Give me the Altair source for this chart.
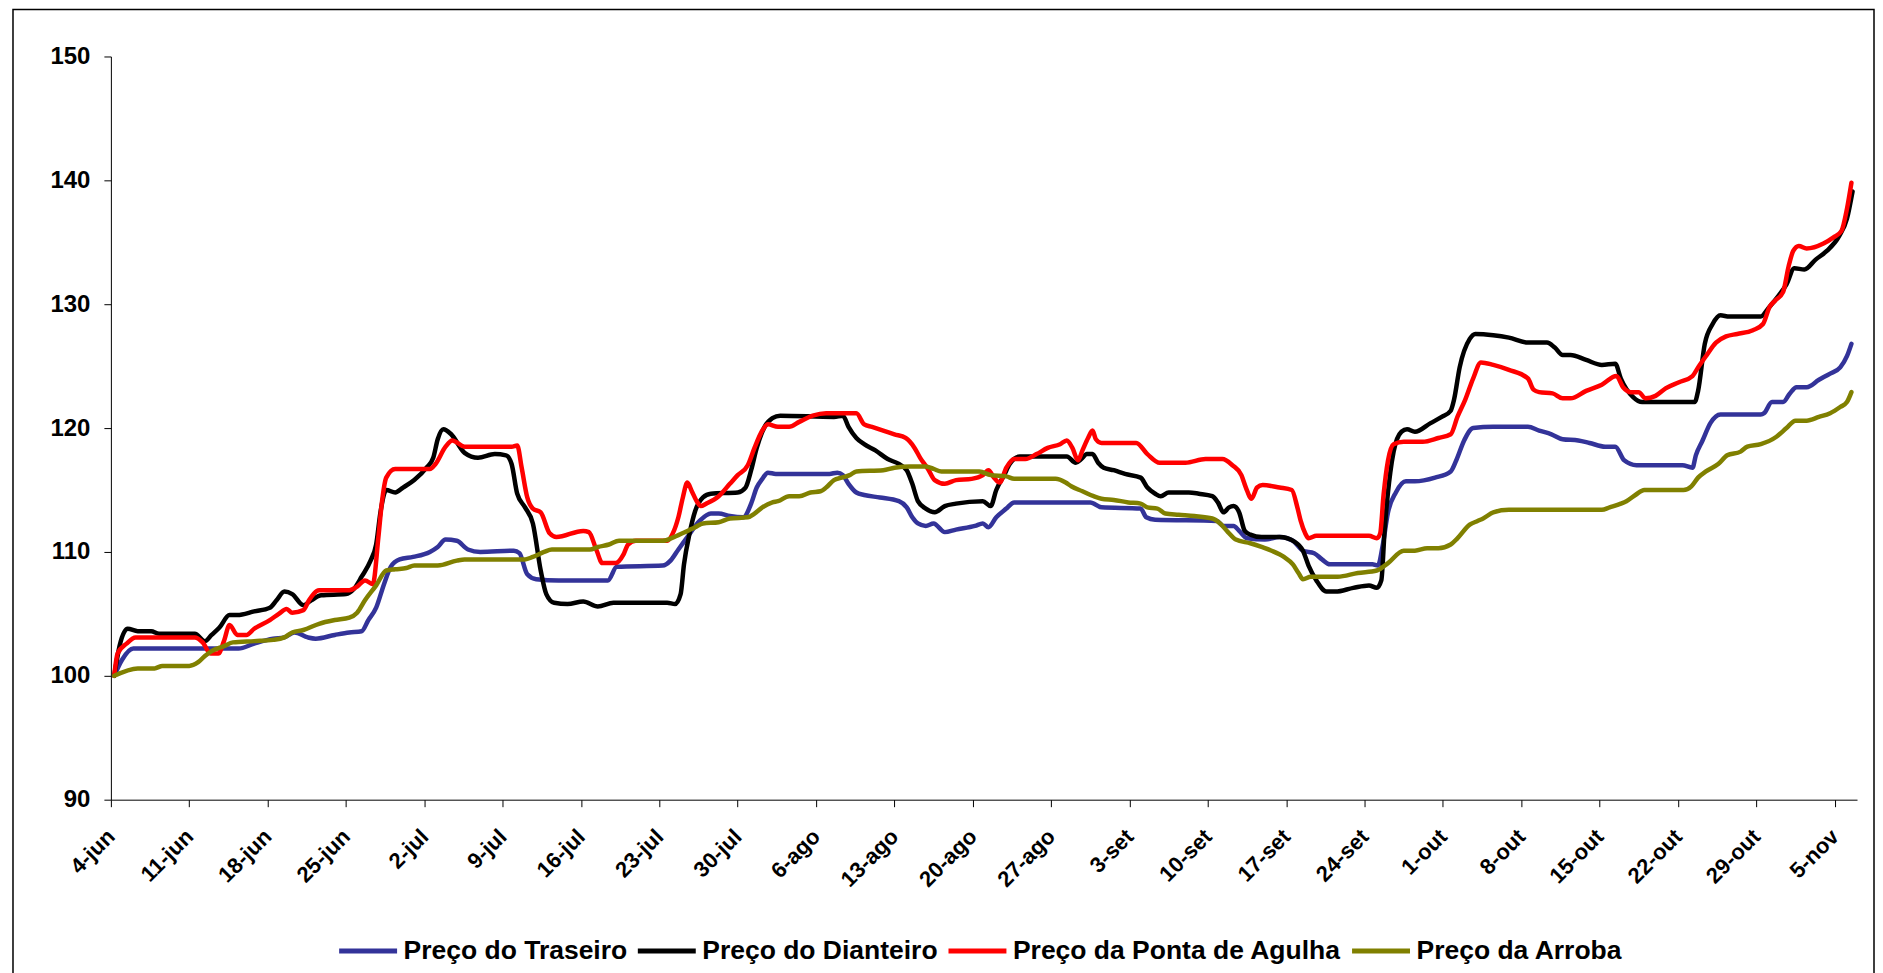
import json
import altair as alt
import pandas as pd

# ---------------- data ----------------
tick_days = [0, 7, 14, 21, 28, 35, 42, 49, 56, 63, 70, 77, 84, 91, 98, 105, 112, 119, 126, 133, 140, 147, 154]
tick_labels = ["4-jun", "11-jun", "18-jun", "25-jun", "2-jul", "9-jul", "16-jul", "23-jul", "30-jul",
               "6-ago", "13-ago", "20-ago", "27-ago", "3-set", "10-set", "17-set", "24-set",
               "1-out", "8-out", "15-out", "22-out", "29-out", "5-nov"]

series_names = ["Preço do Traseiro", "Preço do Dianteiro", "Preço da Ponta de Agulha", "Preço da Arroba"]
series_colors = ["#333399", "#000000", "#FF0000", "#808000"]

traseiro_dia = [0.3, 1, 2, 8, 11.4, 12.8, 14.5, 15.5, 16.4, 17.6, 18.3, 20, 21.3, 22.4, 23, 23.7, 24.4, 25, 25.8, 27,
                28.5, 29.2, 29.9, 30.9, 31.9, 33, 36, 36.5, 37.2, 38, 40, 44.4, 45.2, 49.3, 50, 50.7, 51.5, 52.6,
                53.6, 54.3, 55.3, 56.5, 57.2, 57.7, 58.2, 58.7, 59.4, 64.2, 64.9, 65.4, 65.9, 66.6, 67.3, 68.7,
                70.4, 71.1, 71.6, 72.1, 72.8, 73.5, 74.5, 75.5, 77.2, 77.9, 78.4, 79.1, 80, 80.7, 87.5, 88.5, 92,
                92.5, 93.3, 98.8, 99.4, 100.3, 100.8, 101.5, 103.1, 104.4, 105.6, 106.5, 107.5, 108.2, 108.9,
                112.7, 113.2, 113.6, 114.1, 114.8, 115.7, 116.5, 118.3, 119.7, 120.2, 120.9, 121.7, 123.5, 126.6,
                127.6, 128.7, 129.7, 131.1, 132.1, 133.5, 134.4, 135.2, 136.3, 140.4, 141.3, 141.6, 142.2, 142.9,
                143.8, 147.4, 147.7, 148.4, 149.4, 150, 150.6, 151.5, 152.6, 153.6, 154.5, 155.1, 155.5]
traseiro_val = [100, 101.3, 102.2, 102.2, 102.2, 102.6, 103.0, 103.1, 103.5, 103.1, 103.0, 103.3, 103.5, 103.6,
                104.5, 105.5, 107.4, 108.8, 109.4, 109.6, 110.0, 110.4, 111.0, 110.9, 110.2, 110.0, 110.1, 109.9,
                108.2, 107.8, 107.7, 107.7, 108.8, 108.9, 109.3, 110.2, 111.2, 112.5, 113.1, 113.1, 112.9, 112.8,
                113.9, 115.2, 115.9, 116.4, 116.3, 116.3, 116.4, 116.2, 115.5, 114.8, 114.6, 114.4, 114.1, 113.6,
                112.8, 112.3, 112.1, 112.3, 111.6, 111.8, 112.1, 112.3, 112.0, 112.8, 113.5, 114.0, 114.0, 113.6,
                113.5, 112.8, 112.6, 112.5, 112.1, 112.1, 111.7, 111.1, 111.0, 111.2, 110.9, 110.1, 109.9, 109.4,
                109.0, 109.0, 108.9, 110.4, 113.2, 114.8, 115.7, 115.7, 116.0, 116.5, 117.4, 119.0, 120.0, 120.1,
                120.1, 119.8, 119.5, 119.1, 119.0, 118.8, 118.5, 118.5, 117.4, 117.0, 117.0, 116.8, 117.8, 119.0,
                120.4, 121.1, 121.1, 121.2, 122.1, 122.1, 122.8, 123.3, 123.3, 123.9, 124.4, 124.9, 125.8, 126.8]

dianteiro_dia = [0.3, 0.8, 1.5, 2.4, 3.6, 4.3, 7.5, 8.4, 9, 9.7, 10.6, 11.3, 12.8, 14.2, 14.8, 15.5, 16.2, 17.2,
                 17.9, 18.8, 21, 21.7, 22.4, 23.2, 23.7, 24.1, 24.6, 25.4, 26.1, 27.1, 28.2, 28.8, 29.2, 29.7, 30.4,
                 31.6, 32.8, 34.3, 35.3, 35.8, 36.3, 37, 37.7, 38.4, 38.9, 39.6, 40.8, 42.2, 43.5, 44.9, 49.7, 50.4,
                 50.9, 51.2, 51.7, 52.2, 52.9, 53.6, 56, 56.7, 57.2, 57.7, 58.4, 59.1, 59.8, 64.6, 65.4, 65.9, 66.6,
                 67.3, 68.3, 69.4, 70.4, 71.1, 71.6, 72.1, 72.8, 73.6, 74.5, 75.5, 77.9, 78.6, 79.1, 79.8, 80.3,
                 81.2, 85.4, 86.2, 86.7, 87.2, 87.7, 88.2, 88.7, 89.6, 90.6, 92, 92.6, 93.3, 93.8, 94.5, 96.3, 97.2,
                 98.4, 98.9, 99.4, 99.9, 100.3, 100.8, 101.3, 101.8, 102.8, 104.4, 105.8, 106.5, 107, 107.7, 108.6,
                 109.4, 111, 112.4, 113.1, 113.5, 113.8, 114.3, 114.6, 115.3, 115.8, 116.5, 117.9, 118.9, 119.7,
                 120, 120.5, 121.4, 121.9, 123.5, 124.9, 126.6, 128.3, 129, 129.7, 130.4, 131.8, 133.2, 134.4,
                 134.9, 136, 136.8, 141.5, 141.8, 142.4, 143.1, 143.8, 144.6, 147.4, 148.1, 149, 149.7, 150.4,
                 151.3, 152.3, 153.3, 154.4, 155.1, 155.6]
dianteiro_val = [100, 102.5, 103.8, 103.6, 103.6, 103.4, 103.4, 102.8, 103.3, 103.9, 104.9, 104.9, 105.2, 105.5,
                 106.1, 106.8, 106.6, 105.7, 106.1, 106.5, 106.6, 107.0, 108.0, 109.3, 110.6, 113.3, 115.0, 114.8,
                 115.2, 115.8, 116.8, 117.6, 119.1, 119.9, 119.5, 118.0, 117.6, 117.9, 117.8, 117.1, 114.7, 113.6,
                 112.3, 108.5, 106.6, 105.9, 105.8, 106.0, 105.6, 105.9, 105.9, 105.8, 106.6, 109.0, 111.5, 113.3,
                 114.4, 114.7, 114.8, 115.2, 116.6, 118.4, 120.1, 120.8, 121.0, 120.9, 121.0, 120.1, 119.2, 118.7,
                 118.2, 117.5, 117.1, 116.6, 115.5, 114.1, 113.5, 113.2, 113.7, 113.9, 114.1, 113.7, 115.0, 116.2,
                 117.1, 117.7, 117.7, 117.2, 117.5, 117.9, 117.9, 117.2, 116.8, 116.6, 116.3, 116.0, 115.2, 114.7,
                 114.5, 114.8, 114.8, 114.7, 114.5, 114.0, 113.2, 113.6, 113.7, 113.2, 111.7, 111.4, 111.2, 111.2,
                 110.8, 110.1, 108.9, 107.7, 106.8, 106.8, 107.1, 107.3, 107.1, 107.7, 111.8, 116.4, 118.1, 119.7,
                 119.9, 119.7, 120.4, 120.9, 121.4, 122.3, 124.9, 127.2, 127.6, 127.5, 127.3, 126.9, 126.9, 126.5,
                 125.9, 125.9, 125.5, 125.1, 125.2, 124.0, 122.5, 122.1, 122.1, 123.0, 126.8, 128.4, 129.1, 129.0,
                 129.0, 129.7, 130.7, 131.6, 132.9, 132.8, 133.6, 134.3, 135.5, 136.9, 139.1]

agulha_dia = [0.3, 0.6, 1.4, 2.2, 7.5, 8.2, 8.9, 9.6, 10.1, 10.6, 11.3, 12.1, 12.8, 14.2, 15, 15.7, 16.2, 17.2, 17.7,
              18.6, 21.3, 22, 22.7, 23.4, 23.9, 24.2, 24.6, 25.4, 28.5, 29, 29.9, 30.5, 31.6, 35.8, 36.3, 36.7,
              37.2, 37.7, 38.4, 39.2, 39.8, 42.2, 42.7, 43.4, 43.9, 45.1, 45.8, 46.2, 46.9, 49.7, 50.2, 50.7, 51.1,
              51.5, 51.9, 52.4, 52.7, 53.2, 54.3, 55.3, 56, 56.9, 57.5, 58.2, 58.7, 59.6, 60.6, 61.5, 62.7, 63.9,
              66.6, 67.3, 68, 69, 70, 71, 71.8, 72.3, 73, 73.6, 74.5, 75.5, 76.9, 77.9, 78.4, 78.9, 79.4, 80, 80.7,
              81.7, 82.7, 83.7, 84.8, 85.4, 85.9, 86.4, 86.8, 87.3, 87.7, 88, 88.5, 91.6, 92.6, 93.7, 96, 97.8,
              99.3, 100.2, 101, 101.4, 101.9, 102.4, 102.9, 104.4, 105.5, 106, 106.3, 106.7, 107, 107.7, 112.4,
              113.1, 113.4, 113.7, 114.1, 114.6, 115.5, 117.2, 118.6, 119.7, 120.3, 121, 121.7, 122.4, 123.5,
              124.9, 126.6, 127.1, 127.6, 128.8, 129.7, 130.4, 131.8, 133.2, 134.5, 135.1, 135.8, 136.5, 137.1,
              138, 138.9, 140.1, 141.3, 141.8, 142.5, 143.4, 144.3, 145.3, 146.7, 147.6, 148.2, 148.7, 149.4,
              149.9, 150.3, 150.8, 151.5, 153, 153.9, 154.6, 155.1, 155.5]
agulha_val = [100, 101.8, 102.6, 103.1, 103.1, 102.7, 101.8, 101.8, 102.8, 104.1, 103.3, 103.3, 103.8, 104.5, 105.0,
              105.4, 105.1, 105.3, 106.1, 106.9, 106.9, 107.2, 107.7, 107.4, 111.2, 113.9, 116.0, 116.7, 116.7,
              117.1, 118.5, 119.0, 118.5, 118.5, 118.6, 116.8, 114.4, 113.5, 113.2, 111.5, 111.2, 111.7, 111.6,
              110.1, 109.1, 109.1, 109.8, 110.6, 110.9, 110.9, 111.5, 112.8, 114.4, 115.6, 114.9, 114.0, 113.7,
              113.9, 114.5, 115.5, 116.2, 117.0, 118.4, 119.8, 120.3, 120.1, 120.1, 120.5, 121.0, 121.2, 121.2,
              120.3, 120.1, 119.8, 119.5, 119.2, 118.4, 117.6, 116.7, 115.8, 115.5, 115.8, 115.9, 116.2, 116.6,
              116.0, 115.6, 116.8, 117.5, 117.5, 117.9, 118.4, 118.7, 119.0, 118.4, 117.4, 118.2, 119.2, 119.8,
              119.1, 118.8, 118.8, 117.9, 117.2, 117.2, 117.5, 117.5, 117.0, 116.2, 115.2, 114.3, 115.2, 115.4,
              115.2, 115.0, 113.6, 112.5, 111.5, 111.1, 111.3, 111.3, 111.1, 111.5, 114.6, 117.4, 118.7, 118.9,
              118.9, 119.2, 119.5, 120.9, 122.3, 124.0, 125.3, 125.1, 124.7, 124.0, 123.1, 122.9, 122.8, 122.4,
              122.4, 123.0, 123.5, 124.2, 123.3, 122.9, 122.9, 122.4, 122.6, 123.2, 123.7, 124.2, 124.9, 125.8,
              126.9, 127.4, 127.6, 127.9, 128.4, 129.8, 130.3, 131.0, 133.1, 134.3, 134.7, 134.5, 134.9, 135.4,
              135.9, 137.7, 139.8]

arroba_dia = [0.3, 2.4, 3.9, 4.6, 7, 7.8, 8.4, 9, 10.1, 10.9, 12.8, 14.5, 15.5, 16.2, 17.2, 18.6, 20, 21.3, 22, 22.7,
              23.7, 24.6, 25.4, 26.4, 27.1, 29.2, 30.9, 31.6, 37, 37.7, 38.7, 39.4, 42.8, 43.5, 44.5, 45.4, 49.3,
              50.3, 51.3, 52.2, 52.9, 54.3, 55.3, 56.9, 57.5, 58.2, 59.1, 59.6, 60.6, 61.5, 62.5, 63.4, 63.9, 64.6,
              65.3, 66, 66.6, 69, 70, 71.4, 72.8, 73.5, 74.2, 77.6, 78.6, 80, 80.7, 84.4, 85.3, 85.8, 86.8, 87.8,
              88.5, 89.6, 90.9, 92, 92.6, 93.5, 94.2, 95.4, 96.8, 98.4, 99.1, 99.8, 100.5, 101.8, 102.8, 103.7,
              104.8, 105.6, 106.1, 106.5, 107.2, 109.6, 111.4, 113.1, 114.1, 115.5, 116.5, 117.6, 118.6, 119.7,
              120.3, 121.4, 122.1, 122.6, 123.5, 124.9, 133.2, 133.9, 134.9, 135.4, 136.2, 137, 140.5, 141.2,
              141.8, 142.5, 143.6, 144.4, 145.6, 146.2, 147.4, 148.8, 149.7, 150.5, 151.5, 152.6, 153.6, 154.5,
              155.1, 155.5]
arroba_val = [100, 100.6, 100.6, 100.8, 100.8, 101.1, 101.6, 102.0, 102.4, 102.7, 102.8, 102.9, 103.1, 103.5, 103.7,
              104.2, 104.5, 104.7, 105.1, 106.1, 107.3, 108.5, 108.6, 108.7, 108.9, 108.9, 109.3, 109.4, 109.4,
              109.6, 110.0, 110.2, 110.2, 110.4, 110.6, 110.9, 110.9, 111.2, 111.6, 112.0, 112.3, 112.4, 112.7,
              112.8, 113.1, 113.6, 114.0, 114.1, 114.5, 114.5, 114.8, 114.9, 115.2, 115.8, 116.0, 116.2, 116.5,
              116.6, 116.8, 116.9, 116.9, 116.7, 116.5, 116.5, 116.2, 116.1, 115.9, 115.9, 115.6, 115.3, 114.9,
              114.5, 114.3, 114.2, 114.0, 113.9, 113.6, 113.5, 113.1, 113.0, 112.9, 112.7, 112.3, 111.6, 111.0,
              110.7, 110.4, 110.1, 109.6, 109.0, 108.3, 107.8, 108.0, 108.0, 108.3, 108.5, 109.1, 110.1, 110.1,
              110.3, 110.3, 110.6, 111.1, 112.2, 112.5, 112.7, 113.2, 113.4, 113.4, 113.6, 113.9, 114.1, 114.6,
              115.0, 115.0, 115.3, 116.0, 116.5, 117.1, 117.8, 118.1, 118.5, 118.7, 119.3, 120.0, 120.6, 120.6,
              120.9, 121.2, 121.7, 122.1, 122.9]

# ---------------- table ----------------
rows = []
for name, dias, vals in zip(series_names,
                            [traseiro_dia, dianteiro_dia, agulha_dia, arroba_dia],
                            [traseiro_val, dianteiro_val, agulha_val, arroba_val]):
    for d, v in zip(dias, vals):
        rows.append({"serie": name, "dia": d, "valor": v})
df = pd.DataFrame(rows)

FONT = "Liberation Sans, Arial, sans-serif"
label_expr = json.dumps(tick_labels) + "[round(datum.value / 7)]"

lines = alt.Chart(df).mark_line(
    strokeWidth=4.5, interpolate="monotone", strokeCap="round", strokeJoin="round"
).encode(
    x=alt.X("dia:Q",
            scale=alt.Scale(domain=[0, 156], nice=False, zero=False),
            axis=alt.Axis(values=tick_days, labelExpr=label_expr, title=None, grid=False,
                          labelAngle=-45, labelAlign="right", labelBaseline="middle",
                          labelFont=FONT, labelFontWeight="bold", labelFontSize=22,
                          labelColor="black", labelPadding=26, labelOverlap=False,
                          tickSize=7, tickColor="black", domainColor="black",
                          labelFlush=False)),
    y=alt.Y("valor:Q",
            scale=alt.Scale(domain=[90, 150], nice=False, zero=False),
            axis=alt.Axis(values=[90, 100, 110, 120, 130, 140, 150], title=None, grid=False,
                          labelFont=FONT, labelFontWeight="bold", labelFontSize=24,
                          labelColor="black", labelPadding=14,
                          tickSize=7, tickColor="black", domainColor="black")),
    color=alt.Color("serie:N",
                    scale=alt.Scale(domain=series_names, range=series_colors),
                    legend=alt.Legend(orient="none", legendX=226, legendY=864,
                                      direction="horizontal", columns=4, title=None,
                                      symbolType="stroke", symbolSize=3364, symbolStrokeWidth=5,
                                      labelFont=FONT, labelFontWeight="bold", labelFontSize=26.5,
                                      labelColor="black", labelOffset=4, columnPadding=0,
                                      labelLimit=0, padding=0)),
    order=alt.Order("dia:Q"),
    detail="serie:N",
)

frame = alt.Chart(pd.DataFrame({"k": [0]})).mark_rect(
    stroke="black", strokeWidth=1.5, fillOpacity=0
).encode(
    x=alt.value(-98), x2=alt.value(1765), y=alt.value(-47), y2=alt.value(938)
)

chart = alt.layer(frame, lines).properties(
    width=1748, height=744,
    padding={"left": 4, "top": 0, "right": 0, "bottom": 0},
    background="white",
).configure_view(stroke=None)

chart.save("out.html", embed_options={"renderer": "svg", "actions": False})
